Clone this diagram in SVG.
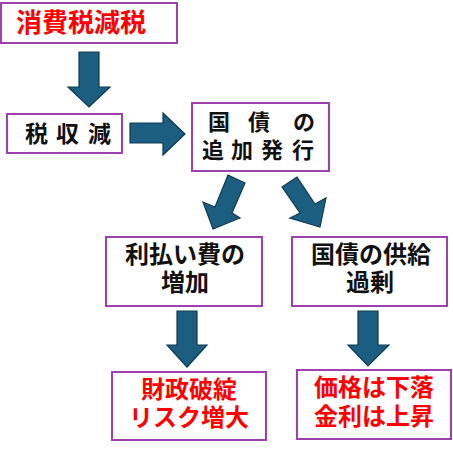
<svg xmlns="http://www.w3.org/2000/svg" width="453" height="450" viewBox="0 0 453 450">
<style>
.box{fill:#ffffff;stroke:#a040b0;stroke-width:2}
.arr{fill:#1b5e80;stroke:#0e3a52;stroke-width:1.2;stroke-linejoin:miter}
text{font-family:"Noto Sans CJK JP","Noto Sans CJK SC",sans-serif;font-weight:700}
.blk{fill:#111111}
.red{fill:#ff0000}
</style>
<rect width="453" height="450" fill="#ffffff"/>
<g id="connectors">
<polygon class="arr" points="79,52 99,52 99,87 110,87 89,107 68,87 79,87"/>
<polygon class="arr" points="130,123 163,123 163,113 185,134 163,155 163,143 130,143"/>
<polygon class="arr" points="228,175 245,183 232,213 240,218 213,229 203,202 215,207"/>
<polygon class="arr" points="282,187 297,177 315,204 326,198 320,227 290,218 300,213"/>
<polygon class="arr" points="177,311 197,311 197,345 207,345 187,367 167,345 177,345"/>
<polygon class="arr" points="358,311 378,311 378,345 389,345 368,366 348,345 358,345"/>
</g>
<g id="n1">
<rect class="box" x="1" y="3" width="176" height="40"/>
<text class="red" x="16" y="32" font-size="26">消費税減税</text>
</g>
<g id="n2">
<rect class="box" x="7" y="114" width="115" height="39"/>
<text class="blk" x="25 56 88" y="142" font-size="23">税収減</text>
</g>
<g id="n3">
<rect class="box" x="192" y="103" width="137" height="68"/>
<text class="blk" font-size="22"><tspan x="208 248 293" y="130">国債の</tspan><tspan x="202 231 261 292" y="158">追加発行</tspan></text>
</g>
<g id="n4">
<rect class="box" x="106" y="237" width="156" height="69"/>
<text class="blk" font-size="24" text-anchor="middle"><tspan x="185" y="263">利払い費の</tspan><tspan x="185" y="291">増加</tspan></text>
</g>
<g id="n5">
<rect class="box" x="292" y="237" width="155" height="69"/>
<text class="blk" font-size="24" text-anchor="middle"><tspan x="371" y="263">国債の供給</tspan><tspan x="370" y="291">過剰</tspan></text>
</g>
<g id="n6">
<rect class="box" x="112" y="372" width="154" height="68"/>
<text class="red" font-size="24" text-anchor="middle"><tspan x="189" y="398">財政破綻</tspan><tspan x="189" y="426">リスク増大</tspan></text>
</g>
<g id="n7">
<rect class="box" x="297" y="370" width="154" height="69"/>
<text class="red" font-size="24" text-anchor="middle"><tspan x="374" y="396">価格は下落</tspan><tspan x="374" y="425">金利は上昇</tspan></text>
</g>
</svg>
